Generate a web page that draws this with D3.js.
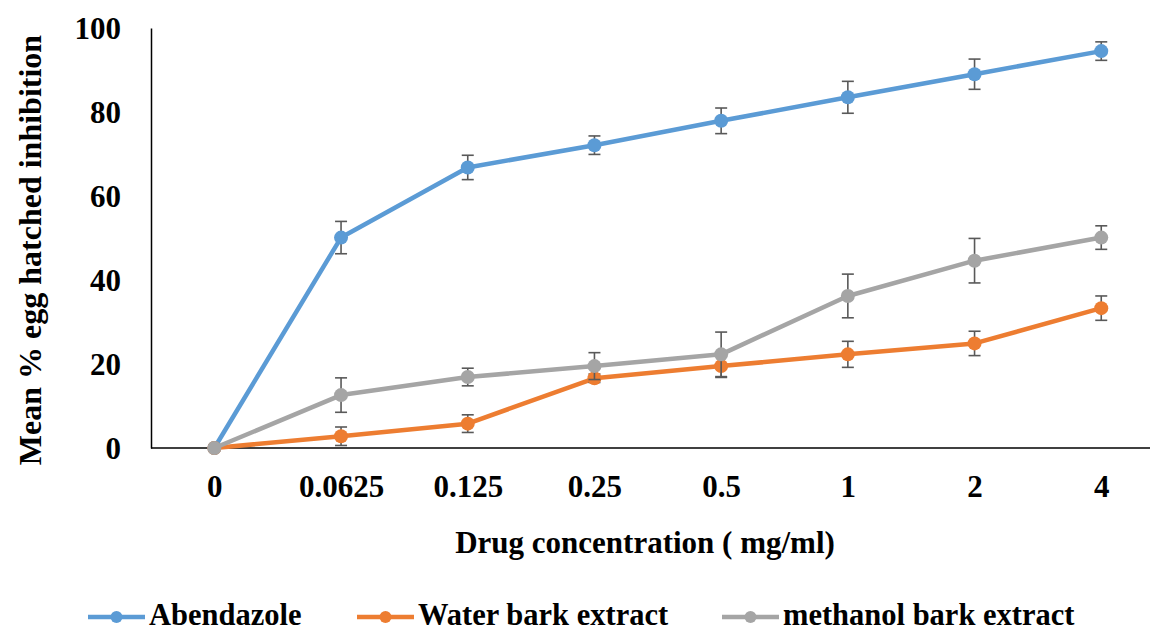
<!DOCTYPE html>
<html>
<head>
<meta charset="utf-8">
<script src="https://cdn.jsdelivr.net/npm/d3@7"></script>
<style>
  body { margin: 0; background: #fff; }
  svg { display: block; }
  svg text { font-family: "Liberation Serif", "Times New Roman", "DejaVu Serif", serif; font-weight: bold; fill: #000; }
</style>
</head>
<body>
<svg id="chart" width="1150" height="632"></svg>
<script>
const categories = ["0", "0.0625", "0.125", "0.25", "0.5", "1", "2", "4"];
const yTicks = [0, 20, 40, 60, 80, 100];

const seriesNames = ["Abendazole", "Water bark extract", "methanol bark extract"];
const seriesColors = ["#5B9BD5", "#ED7D31", "#A5A5A5"];

const abendazole = [0, 50.1, 66.8, 72.1, 77.9, 83.5, 89.0, 94.5];
const abendazoleErr = [0, 3.85, 2.9, 2.2, 3.05, 3.8, 3.6, 2.2];
const water = [0, 2.8, 5.8, 16.6, 19.5, 22.3, 24.9, 33.3];
const waterErr = [0, 2.2, 2.1, 1.0, 2.7, 3.1, 2.9, 2.9];
const methanol = [0, 12.6, 16.9, 19.5, 22.3, 36.2, 44.6, 50.1];
const methanolErr = [0, 4.1, 2.1, 3.2, 5.3, 5.2, 5.3, 2.8];

const series = [
    { name: seriesNames[0], color: seriesColors[0], values: abendazole, err: abendazoleErr },
    { name: seriesNames[1], color: seriesColors[1], values: water, err: waterErr },
    { name: seriesNames[2], color: seriesColors[2], values: methanol, err: methanolErr },
];

const svg = d3.select("#chart");

const plotLeft = 151, plotTop = 28, plotBottom = 448;
const step = 126.7;

const x = d3.scalePoint()
    .domain(categories)
    .range([plotLeft + step / 2, plotLeft + step * (categories.length - 0.5)]);

const y = d3.scaleLinear().domain([0, 100]).range([plotBottom, plotTop]);

// axes
const yAxis = svg.append("g")
    .attr("transform", `translate(${plotLeft},0)`)
    .call(d3.axisLeft(y).tickValues(yTicks).tickSize(0).tickPadding(30));
yAxis.select(".domain").attr("stroke", "#000").attr("stroke-width", 1.5);
yAxis.selectAll("text")
    .attr("font-size", 31)
    .attr("dy", "0.33em");

const xAxis = svg.append("g")
    .attr("transform", `translate(0,${plotBottom})`)
    .call(d3.axisBottom(x).tickSize(0));
xAxis.select(".domain")
    .attr("d", `M${plotLeft},0H${plotLeft + step * categories.length}`)
    .attr("stroke", "#000").attr("stroke-width", 1.5);
xAxis.selectAll("text")
    .attr("font-size", 31)
    .attr("y", 49)
    .attr("dy", null);
svg.selectAll("g").attr("font-family", null).attr("font-size", null);

// axis titles
svg.append("text")
    .attr("transform", `translate(41,${(plotTop + plotBottom) / 2 + 12}) rotate(-90)`)
    .attr("text-anchor", "middle")
    .attr("font-size", 32)
    .text("Mean % egg hatched inhibition");

svg.append("text")
    .attr("x", 645)
    .attr("y", 553)
    .attr("text-anchor", "middle")
    .attr("font-size", 31)
    .text("Drug concentration ( mg/ml)");

// series lines
const line = d3.line()
    .x((d, i) => x(categories[i]))
    .y((d) => y(d));

series.forEach((s) => {
    const g = svg.append("g");
    g.append("path")
        .datum(s.values)
        .attr("fill", "none")
        .attr("stroke", s.color)
        .attr("stroke-width", 4.5)
        .attr("stroke-linejoin", "round")
        .attr("d", line);

    // error bars
    const eb = g.append("g")
        .attr("stroke", "#595959")
        .attr("stroke-width", 1.6);
    s.values.forEach((v, i) => {
        if (!s.err[i]) return;
        const cx = x(categories[i]);
        const y1 = y(v + s.err[i]), y2 = y(v - s.err[i]);
        eb.append("line").attr("x1", cx).attr("x2", cx).attr("y1", y1).attr("y2", y2);
        eb.append("line").attr("x1", cx - 6).attr("x2", cx + 6).attr("y1", y1).attr("y2", y1);
        eb.append("line").attr("x1", cx - 6).attr("x2", cx + 6).attr("y1", y2).attr("y2", y2);
    });

    g.selectAll("circle")
        .data(s.values)
        .join("circle")
        .attr("cx", (d, i) => x(categories[i]))
        .attr("cy", (d) => y(d))
        .attr("r", 7)
        .attr("fill", s.color);
});

// legend
const legendX = [88, 357, 722];
const legend = svg.append("g");
series.forEach((s, i) => {
    const lg = legend.append("g").attr("transform", `translate(${legendX[i]},617)`);
    lg.append("line")
        .attr("x1", 0).attr("x2", 57)
        .attr("stroke", s.color).attr("stroke-width", 4.5);
    lg.append("circle").attr("cx", 28.5).attr("r", 6).attr("fill", s.color);
    lg.append("text")
        .attr("x", 61)
        .attr("y", 8)
        .attr("font-size", 30.5)
        .text(s.name);
});
</script>
</body>
</html>
